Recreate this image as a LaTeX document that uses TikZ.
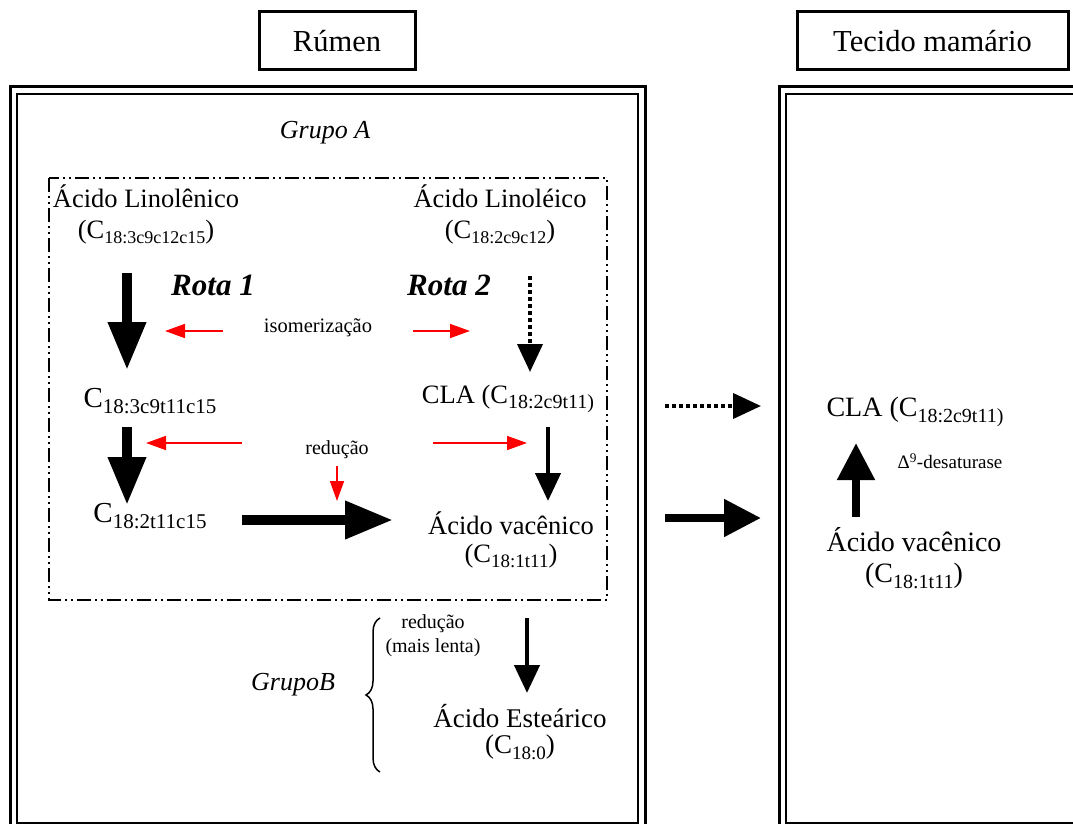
\documentclass[tikz,border=0pt]{standalone}
\usepackage{fontspec}
\setmainfont{Liberation Serif}
\usetikzlibrary{arrows.meta,decorations.pathreplacing}
\newcommand\fs[1]{\fontsize{#1}{#1}\selectfont}
\newcommand\sbx[2]{\raisebox{-0.22em}{\fs{#1}#2}}
\begin{document}
\begin{tikzpicture}[x=1pt,y=-1pt,
  txt/.style={inner sep=0pt, anchor=center},
  ttl/.style={draw, line width=3pt, inner sep=0pt, minimum height=58pt, font=\fs{30.5}},
  bigarrow/.style={line width=10pt, -{Triangle[length=48pt,width=36pt]}},
  midarrow/.style={line width=8pt, -{Triangle[length=37pt,width=36pt]}},
  thinarrow/.style={line width=4.5pt, -{Triangle[length=28pt,width=25pt]}},
  dotarrow/.style={line width=4pt, dash pattern=on 4pt off 3pt, -{Triangle[length=28pt,width=25pt]}},
  redarrow/.style={red, line width=1.6pt, -{Triangle[length=20pt,width=14pt]}},
  dashdotdot/.style={line width=1.8pt, dash pattern=on 14pt off 4pt on 2pt off 4pt on 2pt off 4pt}
]
\useasboundingbox (0,0) rectangle (1073,824);
% titles
\node[ttl, minimum width=156pt] (rumen) at (337,41) {Rúmen};
\node[ttl, minimum width=271pt] (tecido) at (932.5,41) {Tecido mamário};
% outer double boxes
\draw[line width=3pt] (10,87) rectangle (645,832);
\draw[line width=1.5pt] (17,94) rectangle (638,823);
\draw[line width=3pt] (779,87) rectangle (1090,832);
\draw[line width=1.5pt] (786,94) rectangle (1083,823);
% group A
\node[txt, font=\fs{26}\itshape] (grupoA) at (325,133) {Grupo A};
\draw[dashdotdot] (49,178) rectangle (607,600);
% top compounds
\node[txt, font=\fs{26.5}] (linolen) at (146,196) {Ácido Linolênico};
\node[txt, font=\fs{26.5}] (linolenf) at (146,232) {(C\sbx{18}{18:3c9c12c15})};
\node[txt, font=\fs{26.5}] (linole) at (500,196) {Ácido Linoléico};
\node[txt, font=\fs{26.5}] (linolef) at (500,232) {(C\sbx{18}{18:2c9c12})};
\node[txt, font=\fs{31}\bfseries\itshape] (rota1) at (213,285) {Rota 1};
\node[txt, font=\fs{31}\bfseries\itshape] (rota2) at (449,285) {Rota 2};
\node[txt, font=\fs{20.5}] (isom) at (318,328) {isomerização};
% middle compounds
\node[txt, font=\fs{29}] (c183) at (150,401) {C\sbx{21}{18:3c9t11c15}};
\node[txt, font=\fs{26.5}] (cla) at (508,399) {CLA (C\sbx{20}{18:2c9t11)}};
\node[txt, font=\fs{20}] (red1) at (337,450) {redução};
% lower compounds
\node[txt, font=\fs{29}] (c182) at (150,516) {C\sbx{21}{18:2t11c15}};
\node[txt, font=\fs{26.5}] (vac) at (511,523) {Ácido vacênico};
\node[txt, font=\fs{26.5}] (vacf) at (511,556) {(C\sbx{19}{18:1t11})};
% group B
\node[txt, font=\fs{20}] (red2) at (433,624) {redução};
\node[txt, font=\fs{20}] (lenta) at (433,648) {(mais lenta)};
\node[txt, font=\fs{26}\itshape] (grupoB) at (293,685) {GrupoB};
\node[txt, font=\fs{27}] (est) at (520,716) {Ácido Esteárico};
\node[txt, font=\fs{27}] (estf) at (520,747) {(C\sbx{19}{18:0})};
% right box
\node[txt, font=\fs{28}] (cla2) at (915,412) {CLA (C\sbx{20}{18:2c9t11)}};
\node[txt, font=\fs{19}] (desat) at (950,461) {Δ\textsuperscript{9}-desaturase};
\node[txt, font=\fs{28}] (vac2) at (914,540) {Ácido vacênico};
\node[txt, font=\fs{28}] (vac2f) at (914,576) {(C\sbx{20}{18:1t11})};
% arrow coordinates
\coordinate (a1s) at (127,273); \coordinate (a1e) at (127,370);
\coordinate (a2s) at (530,276); \coordinate (a2e) at (530,372);
\coordinate (r1s) at (223,331); \coordinate (r1e) at (165,331);
\coordinate (r2s) at (413,331); \coordinate (r2e) at (470,331);
\coordinate (a3s) at (127,427); \coordinate (a3e) at (127,505);
\coordinate (a4s) at (548,427); \coordinate (a4e) at (548,501);
\coordinate (r3s) at (242,443); \coordinate (r3e) at (146,443);
\coordinate (r4s) at (433,443); \coordinate (r4e) at (527,443);
\coordinate (r5s) at (337,466); \coordinate (r5e) at (337,501);
\coordinate (a5s) at (242,520); \coordinate (a5e) at (393,520);
\coordinate (a6s) at (527,618); \coordinate (a6e) at (527,693);
\coordinate (a7s) at (665,406); \coordinate (a7e) at (761,406);
\coordinate (a8s) at (665,518); \coordinate (a8e) at (761,518);
\coordinate (a9s) at (856,517); \coordinate (a9e) at (856,443);
\coordinate (bs) at (380,772); \coordinate (be) at (380,618);
% arrows
\draw[bigarrow] (a1s) -- (a1e);
\draw[dotarrow] (a2s) -- (a2e);
\draw[redarrow] (r1s) -- (r1e);
\draw[redarrow] (r2s) -- (r2e);
\draw[bigarrow] (a3s) -- (a3e);
\draw[thinarrow] (a4s) -- (a4e);
\draw[redarrow] (r3s) -- (r3e);
\draw[redarrow] (r4s) -- (r4e);
\draw[redarrow] (r5s) -- (r5e);
\draw[bigarrow] (a5s) -- (a5e);
\draw[thinarrow] (a6s) -- (a6e);
\draw[dotarrow] (a7s) -- (a7e);
\draw[midarrow] (a8s) -- (a8e);
\draw[midarrow] (a9s) -- (a9e);
\draw[line width=1.5pt, decorate, decoration={brace, amplitude=14pt}] (bs) -- (be);
\end{tikzpicture}
\end{document}
